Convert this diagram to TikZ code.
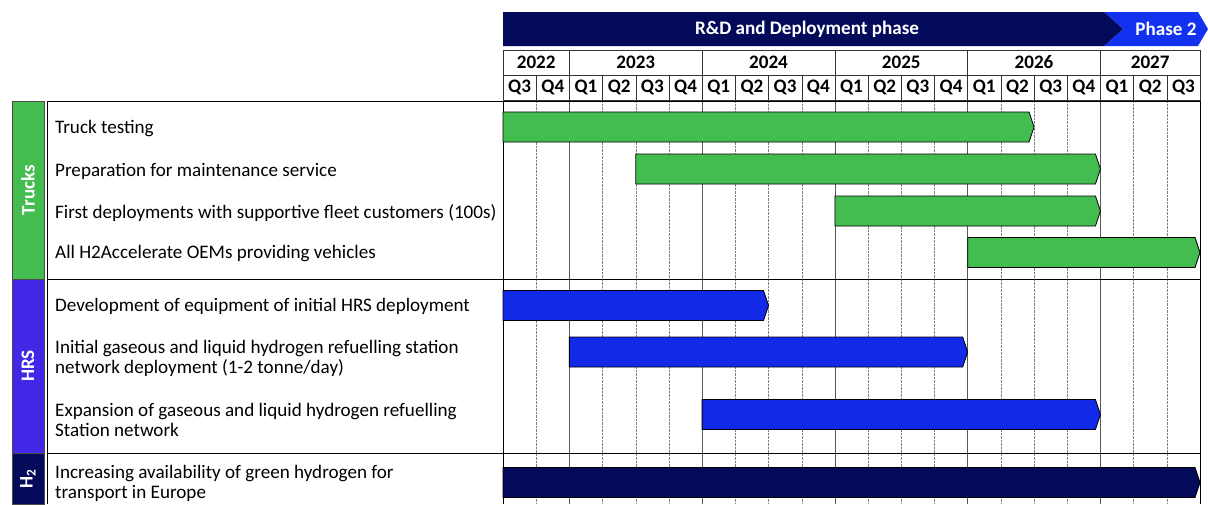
\documentclass[tikz,border=0pt]{standalone}
\usepackage{fontspec}
\setmainfont{Carlito}
\usepackage{xcolor}
\definecolor{trkgreen}{RGB}{68,189,80}
\definecolor{hrsviolet}{RGB}{64,40,230}
\definecolor{hrsblue}{RGB}{18,41,232}
\definecolor{navy}{RGB}{3,10,90}
\definecolor{ph2blue}{RGB}{18,50,240}
\usepackage{tikz}
\usetikzlibrary{matrix}
\usetikzlibrary{positioning}
\newcommand{\chartfont}{\fontsize{19.1}{20}\selectfont}

\begin{document}
\begin{tikzpicture}[x=1pt,y=-1pt,
  every node/.style={font=\chartfont},
  qcell/.style={draw=black!80,minimum width=33.19pt,minimum height=25pt,inner sep=0pt,outer sep=0pt,font=\chartfont\bfseries},
  hdr/.style={text=white,inner sep=0pt,font=\chartfont\bfseries},
  rowtext/.style={anchor=west,inner sep=0pt,align=left},
  catbox/.style={rotate=90,draw=black!70,text=white,minimum height=32pt,inner sep=0pt,outer sep=0pt,font=\chartfont\bfseries},
  ganttbar/.style={draw=black,line width=0.8pt}]
\useasboundingbox (0,0) rectangle (1208,504);

% phase band
\fill[ph2blue] (1104,12) -- (1198,12) -- (1208,29) -- (1198,46) -- (1104,46) -- (1123,29) -- cycle;
\fill[navy] (503,12) -- (1104,12) -- (1123,29) -- (1104,46) -- (503,46) -- cycle;
\node (rnd) [hdr] at (807,29) {R\&D and Deployment phase};
\node (phase2) [hdr] at (1166,29) {Phase 2};

% years and quarters
\foreach \yr/\s/\n in {2022/0/2,2023/2/4,2024/6/4,2025/10/4,2026/14/4,2027/18/3}
  \node (y\yr) [qcell,minimum width={33.19*\n}] at ({503+33.19*(\s+\n/2)},62.5) {\yr};
\foreach \q [count=\k from 0] in {Q3,Q4,Q1,Q2,Q3,Q4,Q1,Q2,Q3,Q4,Q1,Q2,Q3,Q4,Q1,Q2,Q3,Q4,Q1,Q2,Q3}
  \node (q\k) [qcell] at ({503+33.19*(\k+0.5)},87.5) {\q};

% grid
\foreach \k in {1,3,4,5,7,8,9,11,12,13,15,16,17,19,20}
  \draw[densely dotted,gray] ({503+33.19*\k},101) -- ({503+33.19*\k},504);
\foreach \k in {2,6,10,14,18}
  \draw[gray!70!black] ({503+33.19*\k},101) -- ({503+33.19*\k},504);
\draw (503,101) -- (503,504);
\draw (1200,101) -- (1200,504);
\draw (47,101) -- (47,504);
\draw (47,101) -- (1200,101);
\draw (47,279) -- (1200,279);
\draw (47,453) -- (1200,453);

% bars
\foreach \s/\e/\y/\c in {0/16/127/trkgreen,4/18/169/trkgreen,10/18/211/trkgreen,14/21/252.5/trkgreen,
                          0/8/305.5/hrsblue,2/14/352/hrsblue,6/18/414.5/hrsblue,0/21/482.5/navy}
  \draw[ganttbar,fill=\c] ({503+33.19*\s},\y-15) -- ({503+33.19*\e-5},\y-15) -- ({503+33.19*\e},\y)
    -- ({503+33.19*\e-5},\y+15) -- ({503+33.19*\s},\y+15) -- cycle;

% row texts
\node (trucktest) [rowtext] at (55,129) {Truck testing};
\node (maint) [rowtext] at (55,171) {Preparation for maintenance service};
\node (firstdep) [rowtext] at (55,213) {First deployments with supportive fleet customers (100s)};
\node (oems) [rowtext] at (55,254) {All H2Accelerate OEMs providing vehicles};
\node (hrsdev) [rowtext] at (55,306) {Development of equipment of initial HRS deployment};
\node (hrsinit) [rowtext] at (55,358) {Initial gaseous and liquid hydrogen refuelling station\\network deployment (1-2 tonne/day)};
\node (hrsexp) [rowtext] at (55,420) {Expansion of gaseous and liquid hydrogen refuelling\\Station network};
\node (green) [rowtext] at (55,483) {Increasing availability of green hydrogen for\\transport in Europe};

% categories
\node (cattrucks) [catbox,fill=trkgreen,minimum width=178pt] at (28,190) {Trucks};
\node (cathrs) [catbox,fill=hrsviolet,minimum width=174pt] at (28,366) {HRS};
\node (cath2) [catbox,fill=navy,minimum width=51pt] at (28,478.5) {H\textsubscript{2}};
\end{tikzpicture}
\end{document}
